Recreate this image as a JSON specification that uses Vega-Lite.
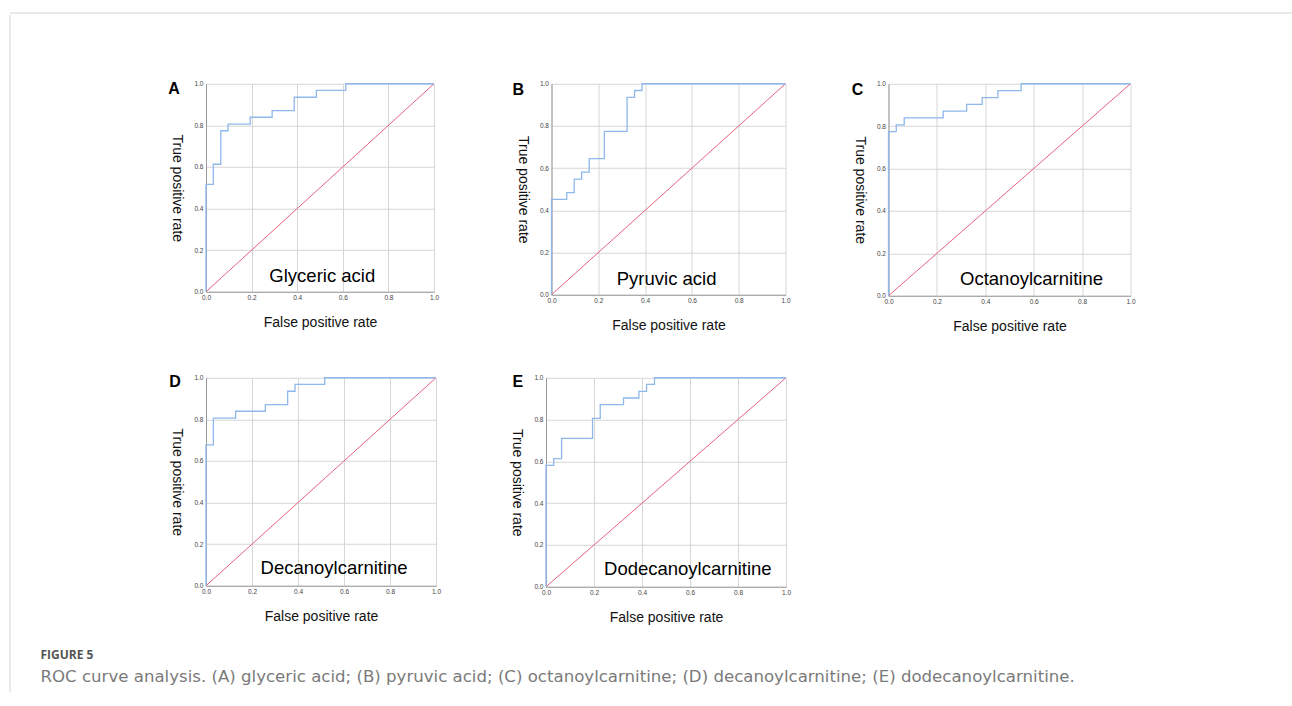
{
 "$schema": "https://vega.github.io/schema/vega-lite/v6.json",
 "padding": {"left": 9, "top": 12, "right": 0, "bottom": 0},
 "background": "white",
 "datasets": {
  "roc": [
   {"panel":"A","i":0,"fpr":0,"tpr":0},{"panel":"A","i":1,"fpr":0,"tpr":0.516},{"panel":"A","i":2,"fpr":0.032,"tpr":0.613},{"panel":"A","i":3,"fpr":0.065,"tpr":0.774},{"panel":"A","i":4,"fpr":0.097,"tpr":0.806},{"panel":"A","i":5,"fpr":0.194,"tpr":0.839},{"panel":"A","i":6,"fpr":0.29,"tpr":0.871},{"panel":"A","i":7,"fpr":0.387,"tpr":0.935},{"panel":"A","i":8,"fpr":0.484,"tpr":0.968},{"panel":"A","i":9,"fpr":0.613,"tpr":1},{"panel":"A","i":10,"fpr":1,"tpr":1},
   {"panel":"B","i":0,"fpr":0,"tpr":0},{"panel":"B","i":1,"fpr":0,"tpr":0.452},{"panel":"B","i":2,"fpr":0.065,"tpr":0.484},{"panel":"B","i":3,"fpr":0.097,"tpr":0.548},{"panel":"B","i":4,"fpr":0.129,"tpr":0.581},{"panel":"B","i":5,"fpr":0.161,"tpr":0.645},{"panel":"B","i":6,"fpr":0.226,"tpr":0.774},{"panel":"B","i":7,"fpr":0.323,"tpr":0.935},{"panel":"B","i":8,"fpr":0.355,"tpr":0.968},{"panel":"B","i":9,"fpr":0.387,"tpr":1},{"panel":"B","i":10,"fpr":1,"tpr":1},
   {"panel":"C","i":0,"fpr":0,"tpr":0},{"panel":"C","i":1,"fpr":0,"tpr":0.774},{"panel":"C","i":2,"fpr":0.032,"tpr":0.806},{"panel":"C","i":3,"fpr":0.065,"tpr":0.839},{"panel":"C","i":4,"fpr":0.226,"tpr":0.871},{"panel":"C","i":5,"fpr":0.323,"tpr":0.903},{"panel":"C","i":6,"fpr":0.387,"tpr":0.935},{"panel":"C","i":7,"fpr":0.452,"tpr":0.968},{"panel":"C","i":8,"fpr":0.548,"tpr":1},{"panel":"C","i":9,"fpr":1,"tpr":1},
   {"panel":"D","i":0,"fpr":0,"tpr":0},{"panel":"D","i":1,"fpr":0,"tpr":0.677},{"panel":"D","i":2,"fpr":0.032,"tpr":0.806},{"panel":"D","i":3,"fpr":0.129,"tpr":0.839},{"panel":"D","i":4,"fpr":0.258,"tpr":0.871},{"panel":"D","i":5,"fpr":0.355,"tpr":0.935},{"panel":"D","i":6,"fpr":0.387,"tpr":0.968},{"panel":"D","i":7,"fpr":0.516,"tpr":1},{"panel":"D","i":8,"fpr":1,"tpr":1},
   {"panel":"E","i":0,"fpr":0,"tpr":0},{"panel":"E","i":1,"fpr":0,"tpr":0.581},{"panel":"E","i":2,"fpr":0.032,"tpr":0.613},{"panel":"E","i":3,"fpr":0.065,"tpr":0.71},{"panel":"E","i":4,"fpr":0.194,"tpr":0.806},{"panel":"E","i":5,"fpr":0.226,"tpr":0.871},{"panel":"E","i":6,"fpr":0.323,"tpr":0.903},{"panel":"E","i":7,"fpr":0.387,"tpr":0.935},{"panel":"E","i":8,"fpr":0.419,"tpr":0.968},{"panel":"E","i":9,"fpr":0.452,"tpr":1},{"panel":"E","i":10,"fpr":1,"tpr":1}
  ],
  "diag": [{"x":0,"y":0},{"x":1,"y":1}],
  "labels": [
   {"panel":"A","letter":"A","name":"Glyceric acid"},
   {"panel":"B","letter":"B","name":"Pyruvic acid"},
   {"panel":"C","letter":"C","name":"Octanoylcarnitine"},
   {"panel":"D","letter":"D","name":"Decanoylcarnitine"},
   {"panel":"E","letter":"E","name":"Dodecanoylcarnitine"}
  ],
  "frameTop": [{"v":1}],
  "frameLeft": [{"v":0}]
 },
 "title": {
  "text": "FIGURE 5",
  "subtitle": "ROC curve analysis. (A) glyceric acid; (B) pyruvic acid; (C) octanoylcarnitine; (D) decanoylcarnitine; (E) dodecanoylcarnitine.",
  "orient": "bottom", "anchor": "start", "frame": "bounds", "offset": -43, "dx": 31,
  "font": "Open Sans", "fontSize": 12, "fontWeight": "bold", "color": "#555555",
  "subtitleFont": "DejaVu Sans", "subtitleFontSize": 16.6, "subtitleColor": "#7a7a7a", "subtitlePadding": 7
 },
 "spacing": 0,
 "vconcat": [
  {"width": 1282, "height": 1, "data": {"name": "frameTop"}, "mark": {"type": "rule", "color": "#d4d4d4"},
   "encoding": {"y": {"field": "v", "type": "quantitative", "scale": {"domain": [0, 1]}, "axis": null}}},
  {"spacing": 157, "center": true, "hconcat": [
   {"width": 1, "height": 677, "data": {"name": "frameLeft"}, "mark": {"type": "rule", "color": "#d4d4d4"},
    "encoding": {"x": {"field": "v", "type": "quantitative", "scale": {"domain": [0, 1]}, "axis": null}}},
   {"spacing": 40, "vconcat": [
    {"spacing": 60.5, "hconcat": [
     {"spacing": 72.5, "hconcat": [
      {"width": 228, "height": 208, "layer": [
       {"data": {"name": "diag"}, "mark": {"type": "line", "color": "#e8607e", "strokeWidth": 1},
        "encoding": {"x": {"field": "x", "type": "quantitative", "scale": {"domain": [0, 1]}, "axis": {"title": "False positive rate", "values": [0, 0.2, 0.4, 0.6, 0.8, 1], "format": ".1f"}},
                     "y": {"field": "y", "type": "quantitative", "scale": {"domain": [0, 1]}, "axis": {"title": "True positive rate", "values": [0, 0.2, 0.4, 0.6, 0.8, 1], "format": ".1f"}}}},
       {"data": {"name": "roc"}, "transform": [{"filter": "datum.panel === 'A'"}], "mark": {"type": "line", "interpolate": "step-after", "color": "#8fb8ec", "strokeWidth": 1.3},
        "encoding": {"x": {"field": "fpr", "type": "quantitative"}, "y": {"field": "tpr", "type": "quantitative"}, "order": {"field": "i", "type": "quantitative"}}},
       {"data": {"name": "labels"}, "transform": [{"filter": "datum.panel === 'A'"}], "mark": {"type": "text", "fontSize": 18.5, "baseline": "alphabetic", "align": "center", "color": "#000"},
        "encoding": {"x": {"datum": 0.51}, "y": {"datum": 0.048}, "text": {"field": "name"}}},
       {"data": {"name": "labels"}, "transform": [{"filter": "datum.panel === 'A'"}], "mark": {"type": "text", "fontSize": 16, "fontWeight": "bold", "baseline": "middle", "align": "center", "color": "#000"},
        "encoding": {"x": {"datum": -0.14}, "y": {"datum": 0.977}, "text": {"field": "letter"}}}
      ]},
      {"width": 234, "height": 211, "layer": [
       {"data": {"name": "diag"}, "mark": {"type": "line", "color": "#e8607e", "strokeWidth": 1},
        "encoding": {"x": {"field": "x", "type": "quantitative", "scale": {"domain": [0, 1]}, "axis": {"title": "False positive rate", "values": [0, 0.2, 0.4, 0.6, 0.8, 1], "format": ".1f"}},
                     "y": {"field": "y", "type": "quantitative", "scale": {"domain": [0, 1]}, "axis": {"title": "True positive rate", "values": [0, 0.2, 0.4, 0.6, 0.8, 1], "format": ".1f"}}}},
       {"data": {"name": "roc"}, "transform": [{"filter": "datum.panel === 'B'"}], "mark": {"type": "line", "interpolate": "step-after", "color": "#8fb8ec", "strokeWidth": 1.3},
        "encoding": {"x": {"field": "fpr", "type": "quantitative"}, "y": {"field": "tpr", "type": "quantitative"}, "order": {"field": "i", "type": "quantitative"}}},
       {"data": {"name": "labels"}, "transform": [{"filter": "datum.panel === 'B'"}], "mark": {"type": "text", "fontSize": 18.5, "baseline": "alphabetic", "align": "center", "color": "#000"},
        "encoding": {"x": {"datum": 0.492}, "y": {"datum": 0.047}, "text": {"field": "name"}}},
       {"data": {"name": "labels"}, "transform": [{"filter": "datum.panel === 'B'"}], "mark": {"type": "text", "fontSize": 16, "fontWeight": "bold", "baseline": "middle", "align": "center", "color": "#000"},
        "encoding": {"x": {"datum": -0.142}, "y": {"datum": 0.972}, "text": {"field": "letter"}}}
      ]}
     ]},
     {"width": 242, "height": 212, "layer": [
      {"data": {"name": "diag"}, "mark": {"type": "line", "color": "#e8607e", "strokeWidth": 1},
       "encoding": {"x": {"field": "x", "type": "quantitative", "scale": {"domain": [0, 1]}, "axis": {"title": "False positive rate", "values": [0, 0.2, 0.4, 0.6, 0.8, 1], "format": ".1f"}},
                    "y": {"field": "y", "type": "quantitative", "scale": {"domain": [0, 1]}, "axis": {"title": "True positive rate", "values": [0, 0.2, 0.4, 0.6, 0.8, 1], "format": ".1f"}}}},
      {"data": {"name": "roc"}, "transform": [{"filter": "datum.panel === 'C'"}], "mark": {"type": "line", "interpolate": "step-after", "color": "#8fb8ec", "strokeWidth": 1.3},
       "encoding": {"x": {"field": "fpr", "type": "quantitative"}, "y": {"field": "tpr", "type": "quantitative"}, "order": {"field": "i", "type": "quantitative"}}},
      {"data": {"name": "labels"}, "transform": [{"filter": "datum.panel === 'C'"}], "mark": {"type": "text", "fontSize": 18.5, "baseline": "alphabetic", "align": "center", "color": "#000"},
       "encoding": {"x": {"datum": 0.591}, "y": {"datum": 0.052}, "text": {"field": "name"}}},
      {"data": {"name": "labels"}, "transform": [{"filter": "datum.panel === 'C'"}], "mark": {"type": "text", "fontSize": 16, "fontWeight": "bold", "baseline": "middle", "align": "center", "color": "#000"},
       "encoding": {"x": {"datum": -0.128}, "y": {"datum": 0.972}, "text": {"field": "letter"}}}
     ]}
    ]},
    {"spacing": 68, "hconcat": [
     {"width": 230, "height": 208, "layer": [
      {"data": {"name": "diag"}, "mark": {"type": "line", "color": "#e8607e", "strokeWidth": 1},
       "encoding": {"x": {"field": "x", "type": "quantitative", "scale": {"domain": [0, 1]}, "axis": {"title": "False positive rate", "values": [0, 0.2, 0.4, 0.6, 0.8, 1], "format": ".1f"}},
                    "y": {"field": "y", "type": "quantitative", "scale": {"domain": [0, 1]}, "axis": {"title": "True positive rate", "values": [0, 0.2, 0.4, 0.6, 0.8, 1], "format": ".1f"}}}},
      {"data": {"name": "roc"}, "transform": [{"filter": "datum.panel === 'D'"}], "mark": {"type": "line", "interpolate": "step-after", "color": "#8fb8ec", "strokeWidth": 1.3},
       "encoding": {"x": {"field": "fpr", "type": "quantitative"}, "y": {"field": "tpr", "type": "quantitative"}, "order": {"field": "i", "type": "quantitative"}}},
      {"data": {"name": "labels"}, "transform": [{"filter": "datum.panel === 'D'"}], "mark": {"type": "text", "fontSize": 18.5, "baseline": "alphabetic", "align": "center", "color": "#000"},
       "encoding": {"x": {"datum": 0.557}, "y": {"datum": 0.056}, "text": {"field": "name"}}},
      {"data": {"name": "labels"}, "transform": [{"filter": "datum.panel === 'D'"}], "mark": {"type": "text", "fontSize": 16, "fontWeight": "bold", "baseline": "middle", "align": "center", "color": "#000"},
       "encoding": {"x": {"datum": -0.135}, "y": {"datum": 0.98}, "text": {"field": "letter"}}}
     ]},
     {"width": 240, "height": 209, "layer": [
      {"data": {"name": "diag"}, "mark": {"type": "line", "color": "#e8607e", "strokeWidth": 1},
       "encoding": {"x": {"field": "x", "type": "quantitative", "scale": {"domain": [0, 1]}, "axis": {"title": "False positive rate", "values": [0, 0.2, 0.4, 0.6, 0.8, 1], "format": ".1f"}},
                    "y": {"field": "y", "type": "quantitative", "scale": {"domain": [0, 1]}, "axis": {"title": "True positive rate", "values": [0, 0.2, 0.4, 0.6, 0.8, 1], "format": ".1f"}}}},
      {"data": {"name": "roc"}, "transform": [{"filter": "datum.panel === 'E'"}], "mark": {"type": "line", "interpolate": "step-after", "color": "#8fb8ec", "strokeWidth": 1.3},
       "encoding": {"x": {"field": "fpr", "type": "quantitative"}, "y": {"field": "tpr", "type": "quantitative"}, "order": {"field": "i", "type": "quantitative"}}},
      {"data": {"name": "labels"}, "transform": [{"filter": "datum.panel === 'E'"}], "mark": {"type": "text", "fontSize": 18.5, "baseline": "alphabetic", "align": "center", "color": "#000"},
       "encoding": {"x": {"datum": 0.591}, "y": {"datum": 0.056}, "text": {"field": "name"}}},
      {"data": {"name": "labels"}, "transform": [{"filter": "datum.panel === 'E'"}], "mark": {"type": "text", "fontSize": 16, "fontWeight": "bold", "baseline": "middle", "align": "center", "color": "#000"},
       "encoding": {"x": {"datum": -0.117}, "y": {"datum": 0.98}, "text": {"field": "letter"}}}
     ]}
    ]}
   ]}
  ]}
 ],
 "config": {
  "font": "Liberation Sans",
  "view": {"stroke": null},
  "axis": {"grid": true, "gridColor": "#d6d6d6", "gridWidth": 1, "ticks": false, "domainColor": "#9a9a9a", "labelFont": "Liberation Sans", "labelFontSize": 6.5, "labelColor": "#444444", "labelPadding": 3, "labelFlush": false, "titleFont": "Liberation Sans", "titleFontSize": 14, "titleFontWeight": "normal", "titleColor": "#111111"},
  "axisX": {"titlePadding": 14},
  "axisY": {"titleAngle": 90, "titleBaseline": "top", "titlePadding": 10}
 }
}
